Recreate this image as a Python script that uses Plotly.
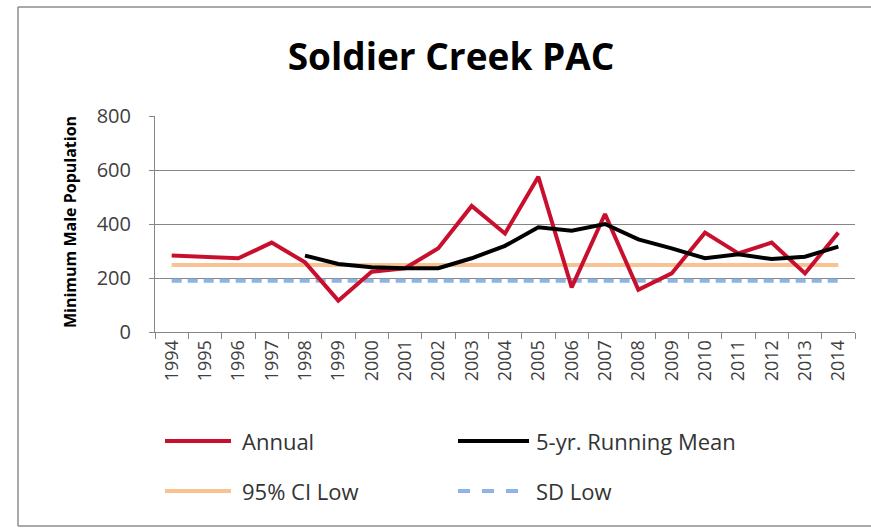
import plotly.graph_objects as go

# Survey years and counts
years = [str(y) for y in range(1994, 2015)]
annual = [283, 279, 273, 331, 258, 116, 223, 236, 310, 467, 365,
          575, 165, 437, 156, 217, 368, 291, 331, 217, 368]
running_mean = [None, None, None, None, 283, 252, 240, 236, 236, 273, 319,
                388, 375, 400, 343, 310, 273, 288, 270, 279, 316]
ci_low = [248] * len(years)
sd_low = [190] * len(years)

series_names = ["Annual", "5-yr. Running Mean", "95% CI Low", "SD Low"]
series_colors = ["#C8102E", "#000000", "#F8C293", "#8EB4E3"]
series_dash = ["solid", "solid", "solid", "dash"]
series_width = [4, 4, 4, 4]
y_ticks = [0, 200, 400, 600, 800]

FONT = "Open Sans"
W, H = 871, 528
L, R, T, B = 155, 16, 116, 196
PW, PH = W - L - R, H - T - B


def px_x(p):
    return (p - L) / PW


def px_y(p):
    return (H - B - p) / PH


fig = go.Figure()

# Reference lines first so the data lines sit on top
fig.add_trace(go.Scatter(x=years, y=ci_low, mode="lines", name=series_names[2],
                         line=dict(color=series_colors[2], width=series_width[2]),
                         showlegend=False))
fig.add_trace(go.Scatter(x=years, y=sd_low, mode="lines", name=series_names[3],
                         line=dict(color=series_colors[3], width=series_width[3],
                                   dash="10px,6px"),
                         showlegend=False))
fig.add_trace(go.Scatter(x=years, y=annual, mode="lines", name=series_names[0],
                         line=dict(color=series_colors[0], width=series_width[0]),
                         showlegend=False))
fig.add_trace(go.Scatter(x=years, y=running_mean, mode="lines", name=series_names[1],
                         line=dict(color=series_colors[1], width=series_width[1]),
                         connectgaps=False, showlegend=False))

shapes = []
annotations = []

# Outer chart frame: left, top and bottom edges (open to the right)
frame = dict(color="#8C8C8C", width=1.5)
shapes.append(dict(type="line", xref="paper", yref="paper",
                   x0=px_x(18), x1=px_x(18), y0=px_y(526), y1=px_y(7), line=frame))
shapes.append(dict(type="line", xref="paper", yref="paper",
                   x0=px_x(18), x1=px_x(W + 5), y0=px_y(7), y1=px_y(7), line=frame))
shapes.append(dict(type="line", xref="paper", yref="paper",
                   x0=px_x(18), x1=px_x(W + 5), y0=px_y(526), y1=px_y(526), line=frame))

# Legend: two columns, two rows
legend_pos = [(165, 231, 240, 441), (458, 529, 534, 441),
              (165, 231, 240, 491), (458, 529, 534, 491)]
for i, (x0, x1, tx, ty) in enumerate(legend_pos):
    dash = "dash" if series_dash[i] == "dash" else "solid"
    shapes.append(dict(type="line", xref="paper", yref="paper",
                       x0=px_x(x0), x1=px_x(x1), y0=px_y(ty), y1=px_y(ty),
                       line=dict(color=series_colors[i], width=series_width[i], dash=dash)))
    annotations.append(dict(text=series_names[i], xref="paper", yref="paper",
                            x=px_x(tx), y=px_y(ty), xanchor="left", yanchor="middle",
                            showarrow=False,
                            font=dict(family=FONT, size=22, color="#333333")))

# Y axis title
annotations.append(dict(text="<b>Minimum Male Population</b>", xref="paper", yref="paper",
                        x=px_x(70), y=px_y(222), textangle=-90, showarrow=False,
                        xanchor="center", yanchor="middle",
                        font=dict(family=FONT, size=16, color="#000000")))

fig.update_layout(
    width=W, height=H,
    margin=dict(l=L, r=R, t=T, b=B),
    paper_bgcolor="white", plot_bgcolor="white",
    title=dict(text="<b>Soldier Creek PAC</b>", x=451 / W, xref="container",
               y=1 - 57 / H, yref="container", xanchor="center", yanchor="middle",
               font=dict(family=FONT, size=37, color="#000000")),
    shapes=shapes, annotations=annotations,
    showlegend=False,
)

fig.update_xaxes(type="category", range=[-0.5, len(years) - 0.5],
                 tickson="boundaries", ticks="outside", ticklen=6, tickcolor="#868686",
                 showline=True, linecolor="#868686", linewidth=1,
                 showgrid=False, tickangle=-90,
                 tickfont=dict(family=FONT, size=18, color="#404040"))
fig.update_yaxes(range=[0, 800], tickvals=y_ticks, ticks="outside", ticklen=5,
                 tickcolor="#868686", showline=True, linecolor="#868686", linewidth=1,
                 showgrid=True, gridcolor="#868686", gridwidth=1, zeroline=False,
                 ticklabelstandoff=14,
                 tickfont=dict(family=FONT, size=20, color="#404040"))

fig.write_html("out.html")
